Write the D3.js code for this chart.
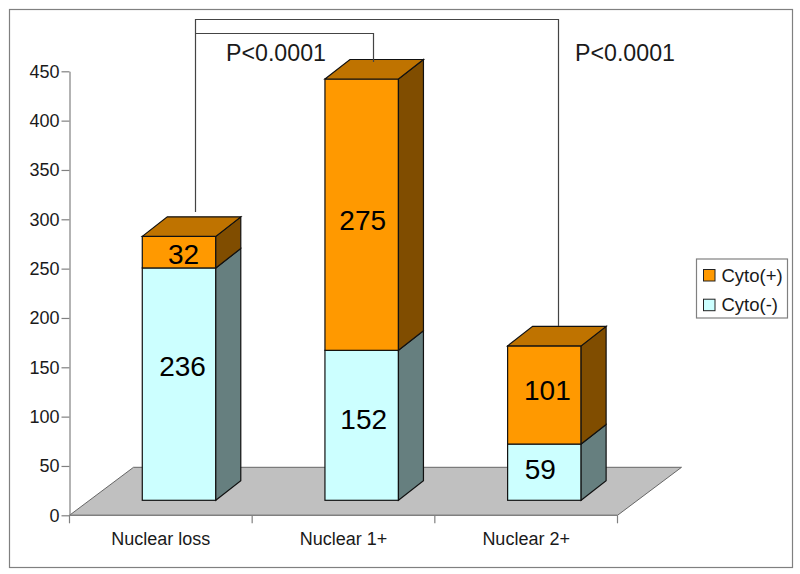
<!DOCTYPE html>
<html>
<head>
<meta charset="utf-8">
<script src="https://cdn.jsdelivr.net/npm/d3@7"></script>
<style>
  html, body { margin: 0; padding: 0; background: #fff; }
  text { font-family: "Liberation Sans", Arial, sans-serif; fill: #1a1a1a; }
  text.bar-value { fill: #000; }
</style>
</head>
<body>
<svg id="chart" style="display:block"></svg>
<script>
const categories = ["Nuclear loss", "Nuclear 1+", "Nuclear 2+"];
// heights as drawn in the picture, the third bar is a bit shorter than its printed labels
const cytoNeg = [235.5, 152, 57];
const cytoPos = [32, 275, 99.5];
// numbers printed on the bars
const cytoNegLabels = [236, 152, 59];
const cytoPosLabels = [32, 275, 101];
const yTicks = [0, 50, 100, 150, 200, 250, 300, 350, 400, 450];
const legendNames = ["Cyto(+)", "Cyto(-)"];
const pLabels = ["P<0.0001", "P<0.0001"];

const width = 800;
const height = 574;

const svg = d3.select("#chart")
  .attr("width", width)
  .attr("height", height);

// outer frame
svg.append("rect")
  .attr("x", 9.5).attr("y", 9.5)
  .attr("width", 783).attr("height", 558)
  .attr("fill", "#fff")
  .attr("stroke", "#808080")
  .attr("stroke-width", 1.2);

const plot = { left: 69.5, right: 617.5, bottom: 515.3, top: 71.3 };
const depth = { dx: 64, dy: 48 };   // floor offset
const front = 15;                   // bars stand a little in front of the axis plane

const x = d3.scaleBand()
  .domain(categories)
  .range([plot.left, plot.right]);

const y = d3.scaleLinear()
  .domain([0, 450])
  .range([plot.bottom, plot.top]);

// floor
svg.append("path")
  .attr("d", d3.line()([
    [plot.left, plot.bottom],
    [plot.left + depth.dx, plot.bottom - depth.dy],
    [plot.right + depth.dx, plot.bottom - depth.dy],
    [plot.right, plot.bottom]
  ]) + "Z")
  .attr("fill", "#c0c0c0")
  .attr("stroke", "#666")
  .attr("stroke-width", 1);

// y axis
const yAxis = svg.append("g")
  .attr("transform", `translate(${plot.left},0)`)
  .call(d3.axisLeft(y).tickValues(yTicks).tickSize(8).tickPadding(2).tickSizeOuter(0).tickFormat(d3.format("d")));
yAxis.selectAll("path, line").attr("stroke", "#808080").attr("stroke-width", 1.2);
yAxis.selectAll("text").attr("font-size", 18);

// x axis, ticks sit between the bands
const xAxis = svg.append("g")
  .attr("transform", `translate(0,${plot.bottom})`);
xAxis.append("line")
  .attr("x1", plot.left).attr("x2", plot.right)
  .attr("stroke", "#808080").attr("stroke-width", 1.2);
xAxis.selectAll("line.tick")
  .data([...categories.map(c => x(c)), plot.right])
  .join("line")
  .attr("class", "tick")
  .attr("x1", d => d).attr("x2", d => d)
  .attr("y1", 0).attr("y2", 8)
  .attr("stroke", "#808080").attr("stroke-width", 1.2);
xAxis.selectAll("text")
  .data(categories)
  .join("text")
  .attr("x", d => x(d) + x.bandwidth() / 2)
  .attr("y", 30)
  .attr("text-anchor", "middle")
  .attr("font-size", 18)
  .text(d => d);

// stacked 3D bars
const barW = 73.5;
const barShift = 18.2;
const barD = { dx: 25, dy: 19.5 };
const stackData = categories.map((c, i) => ({
  cat: c,
  parts: [
    { key: "neg", y0: 0, y1: cytoNeg[i], label: cytoNegLabels[i] },
    { key: "pos", y0: cytoNeg[i], y1: cytoNeg[i] + cytoPos[i], label: cytoPosLabels[i] }
  ]
}));
const fills = {
  neg: { front: "#ccffff", side: "#667f7f", top: "#a3cccc" },
  pos: { front: "#ff9900", side: "#804d00", top: "#bf7300" }
};
// labels were placed by hand in the original, offset from the middle of the segment
const labelNudge = {
  neg: [[3.5, -18], [2, -6], [-4, -3.6]],
  pos: [[4.5, 2], [1, 5], [3, -5]]
};

const barX = d => x(d) + x.bandwidth() / 2 + barShift - barW / 2;
const valY = v => y(v) - front;

const bars = svg.selectAll(".bar")
  .data(stackData)
  .join("g")
  .attr("class", "bar");

bars.each(function(d, b) {
  const g = d3.select(this);
  const x0 = barX(d.cat), x1 = x0 + barW;
  d.parts.forEach((p, i) => {
    const yb = valY(p.y0), yt = valY(p.y1);
    g.append("rect")
      .attr("x", x0).attr("y", yt)
      .attr("width", barW).attr("height", yb - yt)
      .attr("fill", fills[p.key].front)
      .attr("stroke", "#111").attr("stroke-width", 1.2);
    g.append("path")
      .attr("d", d3.line()([
        [x1, yb], [x1 + barD.dx, yb - barD.dy],
        [x1 + barD.dx, yt - barD.dy], [x1, yt]
      ]) + "Z")
      .attr("fill", fills[p.key].side)
      .attr("stroke", "#111").attr("stroke-width", 1.2);
    if (i === d.parts.length - 1) {
      g.append("path")
        .attr("d", d3.line()([
          [x0, yt], [x0 + barD.dx, yt - barD.dy],
          [x1 + barD.dx, yt - barD.dy], [x1, yt]
        ]) + "Z")
        .attr("fill", fills[p.key].top)
        .attr("stroke", "#111").attr("stroke-width", 1.2);
    }
  });
  // text goes on after the segments so the side faces never cover it
  d.parts.forEach(p => {
    const yb = valY(p.y0), yt = valY(p.y1);
    const n = labelNudge[p.key][b];
    g.append("text")
      .attr("class", "bar-value")
      .attr("x", x0 + barW / 2 + n[0])
      .attr("y", (yb + yt) / 2 + n[1] + 10)
      .attr("text-anchor", "middle")
      .attr("font-size", 28)
      .text(p.label);
  });
});

// significance brackets
const bracket = svg.append("g")
  .attr("fill", "none")
  .attr("stroke", "#444")
  .attr("stroke-width", 1.2);
bracket.append("path")
  .attr("d", d3.line()([[195.5, 212], [195.5, 19.5], [558.5, 19.5], [558.5, 326]]));
bracket.append("path")
  .attr("d", d3.line()([[195.5, 33.5], [373.5, 33.5], [373.5, 62]]));

svg.selectAll(".plabel")
  .data(pLabels)
  .join("text")
  .attr("class", "plabel")
  .attr("x", (d, i) => [226, 575][i])
  .attr("y", 61)
  .attr("font-size", 23.2)
  .text(d => d);

// legend
const legend = svg.append("g").attr("transform", "translate(696.5,259)");
legend.append("rect")
  .attr("width", 91).attr("height", 59)
  .attr("fill", "#fff").attr("stroke", "#808080").attr("stroke-width", 1.2);
const rows = legend.selectAll(".row")
  .data(legendNames)
  .join("g")
  .attr("class", "row")
  .attr("transform", (d, i) => `translate(7,${10.5 + i * 29.7})`);
rows.append("rect")
  .attr("width", 11.5).attr("height", 11.5)
  .attr("fill", (d, i) => i === 0 ? fills.pos.front : fills.neg.front)
  .attr("stroke", "#222").attr("stroke-width", 1);
rows.append("text")
  .attr("x", 18).attr("y", 12)
  .attr("font-size", 18.5)
  .text(d => d);
</script>
</body>
</html>
